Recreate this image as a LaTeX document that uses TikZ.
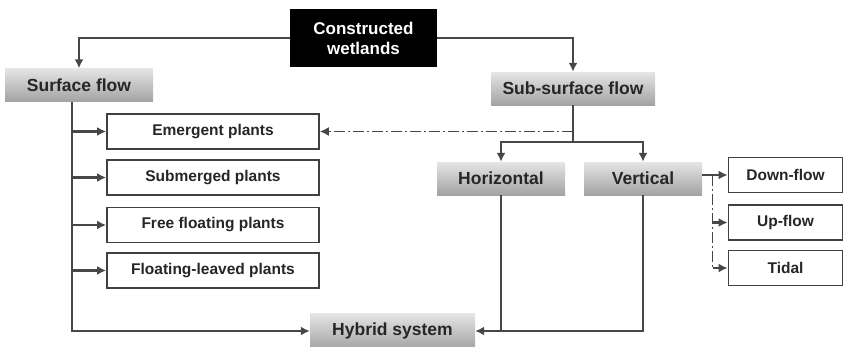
\documentclass[tikz,border=0pt]{standalone}
\usepackage{fontspec}
\setmainfont{Liberation Sans}
\usetikzlibrary{shapes,arrows.meta,positioning,calc,fit,backgrounds}

\tikzset{
  ln/.style={line width=2.2pt,draw=black!72},
  arr/.style={ln,-{Latex[length=9pt,width=9pt]}},
  dashdot/.style={line width=1.4pt,dash pattern=on 11pt off 3pt on 2pt off 3pt},
  blackbox/.style={fill=black,text=white,align=center,minimum width=147pt,minimum height=58pt,font=\fontsize{17}{20}\selectfont\bfseries},
  greybox/.style={top color=black!10,bottom color=black!36,text=black!85,minimum height=33pt,font=\fontsize{17.5}{19}\selectfont\bfseries},
  plantbox/.style={draw=black!75,line width=1.8pt,fill=white,text=black!85,minimum width=212pt,minimum height=35pt,font=\fontsize{15.5}{17}\selectfont\bfseries},
  flowbox/.style={draw=black!75,line width=1.8pt,fill=white,text=black!85,minimum width=114pt,minimum height=35pt,font=\fontsize{15.5}{17}\selectfont\bfseries}
}

\begin{document}
\begin{tikzpicture}[x=1pt,y=-1pt]
\useasboundingbox (0,0) rectangle (845,346);

\node[blackbox] (cw) at (363.5,38) {Constructed\\wetlands};
\node[greybox,minimum width=148pt] (sf) at (79,85) {Surface flow};
\node[greybox,minimum width=164pt] (ssf) at (573,88.5) {Sub-surface flow};

\node[plantbox] (emer) at (213,131.5) {Emergent plants};
\node[plantbox] (subm) at (213,177.5) {Submerged plants};
\node[plantbox] (free) at (213,225) {Free floating plants};
\node[plantbox] (leaf) at (213,270.5) {Floating-leaved plants};

\node[greybox,minimum width=128pt] (hz) at (501,178.5) {Horizontal};
\node[greybox,minimum width=118pt] (vt) at (643,178.5) {Vertical};
\node[greybox,minimum width=165pt,minimum height=36pt] (hy) at (392.5,331) {Hybrid system};

\node[flowbox] (dn) at (785.5,175) {Down-flow};
\node[flowbox] (up) at (785.5,222.5) {Up-flow};
\node[flowbox] (td) at (785.5,268) {Tidal};

\draw[arr] (cw.west) -| (sf.north);
\draw[arr] (cw.east) -| (ssf.north);

\coordinate (S) at (72,102);
\draw[arr] (S) |- (hy.west);
\draw[arr] ($ (emer.west) - (35,0) $) -- (emer.west);
\draw[arr] ($ (subm.west) - (35,0) $) -- (subm.west);
\draw[arr] ($ (free.west) - (35,0) $) -- (free.west);
\draw[arr] ($ (leaf.west) - (35,0) $) -- (leaf.west);

\draw[ln] (ssf.south) -- ++(0,37) coordinate (J);
\draw[arr,dashdot] (ssf.south |- emer.east) -- (emer.east);
\draw[arr] (J) -| (hz.north);
\draw[arr] (J) -| (vt.north);

\draw[ln] (hz.south) -- (hz.south |- hy.east);
\draw[arr] (vt.south) |- (hy.east);

\coordinate (T) at ($ (dn.west) - (15,0) $);
\draw[arr] (vt.east |- dn.west) -- (dn.west);
\draw[ln,dashdot] (T) -- (T |- td.west);
\draw[arr] (T |- up.west) -- (up.west);
\draw[arr] (T |- td.west) -- (td.west);

\end{tikzpicture}
\end{document}
